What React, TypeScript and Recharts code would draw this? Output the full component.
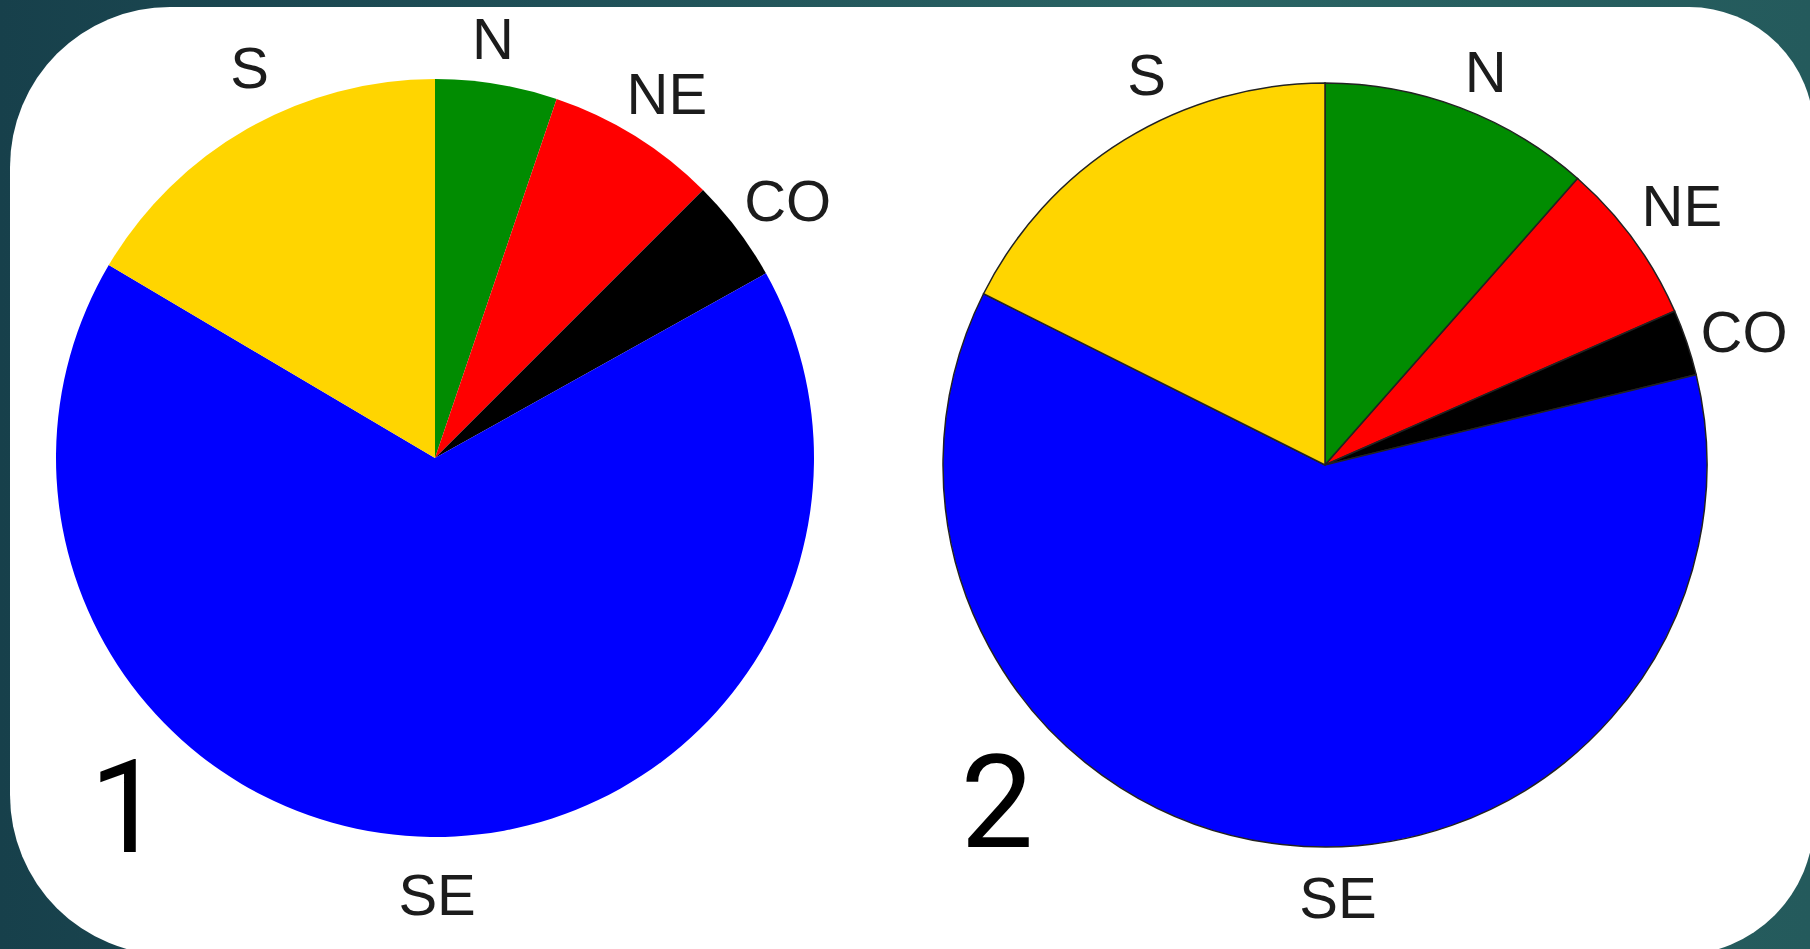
import React from "react";
import { Cell, Pie, PieChart } from "recharts";

// Regions, clockwise from 12 o'clock
const REGIONS = ["N", "NE", "CO", "SE", "S"];
// share (%) per region
const SHARE_1 = [5.2, 7.3, 4.4, 66.6, 16.5];
const SHARE_2 = [11.5, 6.9, 2.8, 61.2, 17.6];
const COLORS = ["#018c01", "#ff0000", "#000000", "#0000ff", "#ffd500"];
const PANEL_NUMBERS = ["1", "2"];

// label placement tweaks (deg clockwise from slice middle, px beyond rim)
const LABEL_TURN_1 = [-1.5, 0.6, 0.9, -1, 4.3];
const LABEL_GAP_1 = [44, 53, 58, 58, 53];
const LABEL_TURN_2 = [1.5, 0.2, 1, -8.2, 7.1];
const LABEL_GAP_2 = [43, 59, 58, 51, 47];

const W = 1810;
const H = 949;

const data1 = REGIONS.map((name, i) => ({ name, value: SHARE_1[i] }));
const data2 = REGIONS.map((name, i) => ({ name, value: SHARE_2[i] }));

function renderRegionLabel(props: any, turn: number[], gap: number[]) {
  const { cx, cy, midAngle, outerRadius, name, index } = props;
  const RAD = Math.PI / 180;
  const a = (midAngle - (turn[index] ?? 0)) * RAD;
  const r = outerRadius + (gap[index] ?? 50);
  const x = cx + r * Math.cos(-a);
  const y = cy + r * Math.sin(-a);
  return (
    <text
      key={`lbl-${name}`}
      x={x}
      y={y}
      textAnchor="middle"
      dominantBaseline="central"
      fill="#1c1c1c"
      fontSize={58}
      fontFamily="'Liberation Sans', Arial, sans-serif"
    >
      {name}
    </text>
  );
}

export default function App() {
  return (
    <div
      style={{
        position: "absolute",
        left: 0,
        top: 0,
        width: W,
        height: H,
        overflow: "hidden",
        background: "linear-gradient(90deg, #17404b 0%, #1f4f57 30%, #2a6464 65%, #245a5c 100%)",
      }}
    >
      {/* white card */}
      <div
        style={{
          position: "absolute",
          left: 10,
          top: 7,
          width: 1804,
          height: 948,
          background: "#ffffff",
          borderRadius: "160px 125px 135px 160px",
        }}
      />

      <div style={{ position: "absolute", left: 0, top: 0 }}>
        <PieChart width={W} height={H} margin={{ top: 0, right: 0, bottom: 0, left: 0 }}>
          <Pie
            data={data1}
            dataKey="value"
            nameKey="name"
            cx={435}
            cy={458}
            outerRadius={379}
            startAngle={90}
            endAngle={-270}
            stroke="none"
            label={(p: any) => renderRegionLabel(p, LABEL_TURN_1, LABEL_GAP_1)}
            labelLine={false}
            isAnimationActive={false}
          >
            {data1.map((d, i) => (
              <Cell key={d.name} fill={COLORS[i]} />
            ))}
          </Pie>
          <Pie
            data={data2}
            dataKey="value"
            nameKey="name"
            cx={1325}
            cy={465}
            outerRadius={382}
            startAngle={90}
            endAngle={-270}
            stroke="#222222"
            strokeWidth={1.5}
            label={(p: any) => renderRegionLabel(p, LABEL_TURN_2, LABEL_GAP_2)}
            labelLine={false}
            isAnimationActive={false}
          >
            {data2.map((d, i) => (
              <Cell key={d.name} fill={COLORS[i]} />
            ))}
          </Pie>
        </PieChart>
      </div>

      {/* panel numbers */}
      <svg
        width={W}
        height={H}
        style={{ position: "absolute", left: 0, top: 0, pointerEvents: "none" }}
      >
        <text x={126} y={852} textAnchor="middle" fontSize={130} fill="#000" fontFamily="Roboto, 'Noto Sans', sans-serif">
          {PANEL_NUMBERS[0]}
        </text>
        <text x={997} y={847} textAnchor="middle" fontSize={130} fill="#000" fontFamily="Roboto, 'Noto Sans', sans-serif">
          {PANEL_NUMBERS[1]}
        </text>
      </svg>
    </div>
  );
}
